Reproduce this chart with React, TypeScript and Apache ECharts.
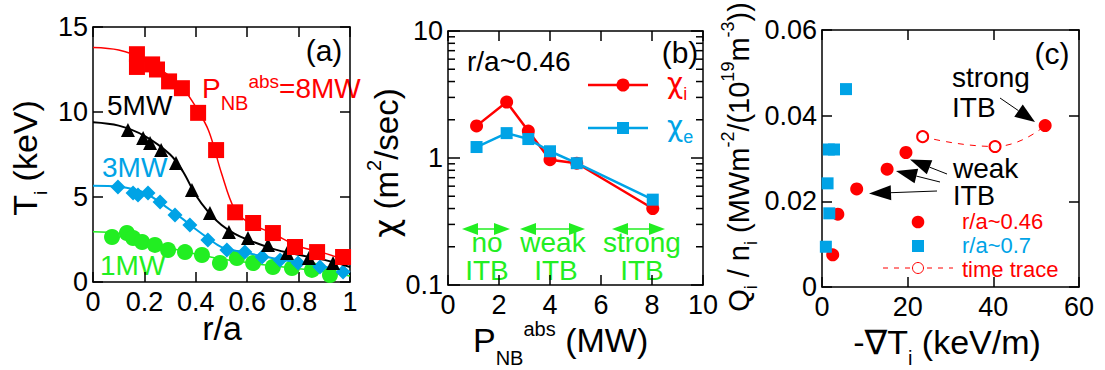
import React, { useEffect, useRef } from "react";
import * as echarts from "echarts";

// ---------------- data: panel (a) Ti profiles ----------------
const r8 = [0.171, 0.171, 0.23, 0.249, 0.296, 0.346, 0.409, 0.479, 0.553, 0.623, 0.7, 0.786, 0.872, 0.973];
const T8 = [13.4, 12.65, 12.8, 12.5, 11.8, 11.4, 9.95, 7.76, 4.1, 3.47, 2.88, 2.06, 1.76, 1.47];
const r5 = [0.136, 0.195, 0.222, 0.265, 0.323, 0.385, 0.455, 0.529, 0.603, 0.681, 0.755, 0.84, 0.934];
const T5 = [8.94, 8.47, 8.18, 7.76, 7.0, 5.41, 4.06, 2.94, 2.59, 2.18, 1.71, 1.41, 1.12];
const r3 = [0.097, 0.156, 0.175, 0.214, 0.261, 0.319, 0.377, 0.447, 0.521, 0.591, 0.658, 0.728, 0.798, 0.883, 0.973];
const T3 = [5.59, 5.24, 5.12, 5.24, 4.71, 3.94, 3.35, 2.47, 1.88, 1.76, 1.47, 1.29, 1.12, 0.88, 0.59];
const r1 = [0.074, 0.132, 0.156, 0.191, 0.241, 0.292, 0.358, 0.424, 0.494, 0.56, 0.623, 0.7, 0.774, 0.852, 0.922];
const T1 = [2.65, 2.88, 2.59, 2.35, 2.18, 1.88, 1.76, 1.59, 1.12, 1.41, 1.12, 0.88, 0.82, 0.71, 0.41];
const fitR = [0, 0.1, 0.2, 0.3, 0.35, 0.4, 0.45, 0.5, 0.55, 0.6, 0.7, 0.8, 0.9, 1.0];
const fit8 = [13.8, 13.65, 13.1, 12.1, 11.4, 10.3, 8.9, 6.4, 4.3, 3.55, 2.85, 2.1, 1.7, 1.2];
const fit5 = [9.4, 9.2, 8.6, 7.5, 6.5, 5.1, 4.1, 3.35, 2.85, 2.5, 1.95, 1.6, 1.3, 0.88];
const fit3 = [5.66, 5.6, 5.25, 4.25, 3.7, 3.1, 2.55, 2.05, 1.85, 1.7, 1.4, 1.15, 0.9, 0.6];
const fit1 = [2.95, 2.85, 2.45, 2.0, 1.82, 1.65, 1.5, 1.35, 1.25, 1.15, 0.95, 0.78, 0.6, 0.35];

// ---------------- data: panel (b) chi vs P_NB ----------------
const pnb = [1.12, 2.3, 3.15, 4.0, 5.05, 8.03];
const chiI = [1.79, 2.76, 1.63, 0.97, 0.91, 0.4];
const chiE = [1.22, 1.57, 1.41, 1.13, 0.91, 0.47];
const logMinorTicks = [0.2, 0.3, 0.4, 0.5, 0.6, 0.7, 0.8, 0.9, 2, 3, 4, 5, 6, 7, 8, 9];

// ---------------- data: panel (c) Qi/ni vs -grad Ti ----------------
const grad046 = [52.1, 19.6, 15.2, 8.1, 3.7, 2.5];
const q046 = [0.0377, 0.0314, 0.0275, 0.0229, 0.017, 0.0075];
const grad07 = [5.6, 1.6, 2.8, 1.3, 1.7, 0.9];
const q07 = [0.0462, 0.0321, 0.0321, 0.0242, 0.0172, 0.0094];
const gradTrace = [23.5, 40.4, 52.1];
const qTrace = [0.0351, 0.0328, 0.0377];

const RED = "#ff0000";
const BLUE = "#00a3e6";
const GREEN = "#22ee22";
const BLACK = "#000000";
const FONT = '"Liberation Sans", "DejaVu Sans", Arial, sans-serif';
const GREEK = '"DejaVu Sans", "Liberation Sans", sans-serif';

const zip = (a: number[], b: number[]) => a.map((v, i) => [v, b[i]]);

let mctx: CanvasRenderingContext2D | null = null;
function tw(t: string, s: number, fam: string): number {
  if (!mctx) mctx = document.createElement("canvas").getContext("2d");
  if (!mctx) return t.length * s * 0.55;
  mctx.font = `${s}px ${fam}`;
  return mctx.measureText(t).width;
}

type Piece = [string, number, number?, string?];
function runText(pieces: Piece[], x: number, y: number, color: string, align: "left" | "center" = "left", rotation = 0) {
  const widths = pieces.map((p) => tw(p[0], p[1], p[3] || FONT));
  const total = widths.reduce((a, b) => a + b, 0);
  let cx = align === "center" ? -total / 2 : 0;
  const children = pieces.map((p, i) => {
    const el = {
      type: "text",
      x: cx,
      y: p[2] || 0,
      style: { text: p[0], fontSize: p[1], fontFamily: p[3] || FONT, fill: color, align: "left", verticalAlign: "middle" },
    };
    cx += widths[i];
    return el;
  });
  return { type: "group", x, y, rotation, children, silent: true };
}

function arrow(x1: number, y1: number, x2: number, y2: number, color: string, hl: number, hw: number, lw: number) {
  const dx = x2 - x1, dy = y2 - y1;
  const L = Math.hypot(dx, dy);
  const ux = dx / L, uy = dy / L;
  const bx = x2 - ux * hl, by = y2 - uy * hl;
  const px = -uy, py = ux;
  return [
    { type: "line", shape: { x1, y1, x2: bx, y2: by }, style: { stroke: color, lineWidth: lw }, silent: true },
    {
      type: "polygon",
      shape: { points: [[x2, y2], [bx + px * hw / 2, by + py * hw / 2], [bx - px * hw / 2, by - py * hw / 2]] },
      style: { fill: color },
      silent: true,
    },
  ];
}

function dArrow(xl: number, xr: number, y: number, color: string) {
  const hl = 16, hw = 12;
  return [
    { type: "line", shape: { x1: xl + hl, y1: y, x2: xr - hl, y2: y }, style: { stroke: color, lineWidth: 1.5 }, silent: true },
    { type: "polygon", shape: { points: [[xl, y], [xl + hl, y - hw / 2], [xl + hl, y + hw / 2]] }, style: { fill: color }, silent: true },
    { type: "polygon", shape: { points: [[xr, y], [xr - hl, y - hw / 2], [xr - hl, y + hw / 2]] }, style: { fill: color }, silent: true },
  ];
}

const axLine = { show: true, onZero: false, lineStyle: { color: BLACK, width: 1.5 } };
const axTick = { show: true, inside: true, length: 10, lineStyle: { color: BLACK, width: 1.5 } };
const lbl = (margin: number) => ({ show: true, color: BLACK, fontSize: 27, fontFamily: FONT, margin });
const noLbl = { show: false };

function xAx(grid: number, pos: "bottom" | "top", min: number, max: number, interval: number) {
  return {
    type: "value", gridIndex: grid, position: pos, min, max, interval,
    axisLine: axLine, axisTick: axTick, splitLine: { show: false },
    axisLabel: pos === "bottom" ? lbl(6) : noLbl,
  };
}
function yAx(grid: number, pos: "left" | "right", min: number, max: number, interval: number) {
  return {
    type: "value", gridIndex: grid, position: pos, min, max, interval,
    axisLine: axLine, axisTick: axTick, splitLine: { show: false },
    axisLabel: pos === "left" ? lbl(5) : noLbl,
  };
}
function yLog(grid: number, pos: "left" | "right") {
  return {
    type: "log", logBase: 10, gridIndex: grid, position: pos, min: 0.1, max: 10,
    axisLine: axLine, axisTick: { ...axTick, length: 12 }, splitLine: { show: false }, minorTick: { show: false },
    axisLabel: pos === "left" ? lbl(5) : noLbl,
  };
}

export default function App() {
  const ref = useRef<HTMLDivElement>(null);
  useEffect(() => {
    document.body.style.margin = "0";
    if (!ref.current) return;
    const chart = echarts.init(ref.current, undefined, { renderer: "svg" });

    const sc = (x: number, y: number, data: number[][], symbol: string, size: number, color: string, z = 3) => ({
      type: "scatter", xAxisIndex: x, yAxisIndex: y, data, symbol, symbolSize: size, z,
      itemStyle: { color, opacity: 1 }, silent: true,
    });
    const fit = (data: number[][], color: string, width: number, z = 2) => ({
      type: "line", xAxisIndex: 0, yAxisIndex: 0, data, smooth: 0.35, showSymbol: false, symbol: "none", z,
      lineStyle: { color, width }, silent: true,
    });

    const graphics: any[] = [
      // panel (a) texts
      runText([["(a)", 30]], 324, 50, BLACK, "center"),
      runText([["P", 28], ["NB", 20, 15], ["abs", 19, -7], ["=8MW", 28]], 202, 88, RED),
      runText([["5MW", 28]], 107, 105, BLACK),
      runText([["3MW", 28]], 102, 167, BLUE),
      runText([["1MW", 28]], 100, 265, GREEN),
      runText([["T", 34], ["i", 19, 15], [" (keV)", 34]], 25, 158, BLACK, "center", Math.PI / 2),
      runText([["r/a", 34]], 222, 328, BLACK, "center"),
      // panel (b) texts
      runText([["r/a~0.46", 28]], 467, 61, BLACK),
      runText([["(b)", 30]], 680, 52, BLACK, "center"),
      runText([["χ", 28, 0, GREEK], ["i", 18, 11]], 667, 83, RED),
      runText([["χ", 28, 0, GREEK], ["e", 18, 11]], 667, 126, BLUE),
      runText([["χ", 33, 0, GREEK], [" (m", 33], ["2", 20, -12], ["/sec)", 33]], 386, 163, BLACK, "center", Math.PI / 2),
      runText([["P", 34], ["NB", 20, 18], ["abs", 20, -11], [" (MW)", 34]], 473, 340, BLACK),
      runText([["no", 28]], 487, 242, GREEN, "center"),
      runText([["ITB", 28]], 487, 270, GREEN, "center"),
      runText([["weak", 28]], 553, 242, GREEN, "center"),
      runText([["ITB", 28]], 556, 270, GREEN, "center"),
      runText([["strong", 28]], 642, 242, GREEN, "center"),
      runText([["ITB", 28]], 642, 270, GREEN, "center"),
      ...dArrow(462, 510, 229, GREEN),
      ...dArrow(520, 585, 229, GREEN),
      ...dArrow(612, 665, 229, GREEN),
      { type: "line", shape: { x1: 588, y1: 85, x2: 648, y2: 85 }, style: { stroke: RED, lineWidth: 2.5 }, silent: true },
      { type: "circle", shape: { cx: 623, cy: 85, r: 6.5 }, style: { fill: RED }, silent: true },
      { type: "line", shape: { x1: 588, y1: 128, x2: 648, y2: 128 }, style: { stroke: BLUE, lineWidth: 2.5 }, silent: true },
      { type: "rect", shape: { x: 617, y: 122, width: 12, height: 12 }, style: { fill: BLUE }, silent: true },
      // panel (c) texts
      runText([["(c)", 30]], 1052, 53, BLACK, "center"),
      runText([["strong", 28]], 952, 77, BLACK),
      runText([["ITB", 28]], 952, 107, BLACK),
      runText([["weak", 28]], 953, 168, BLACK),
      runText([["ITB", 27]], 953, 196, BLACK),
      ...arrow(1000, 98, 1035, 122, BLACK, 20, 15, 1),
      ...arrow(947, 174, 910, 159.5, BLACK, 21, 15, 1),
      ...arrow(940, 182, 896, 171, BLACK, 21, 15, 1),
      ...arrow(937, 191, 869, 193.5, BLACK, 22, 15, 1),
      { type: "circle", shape: { cx: 918, cy: 222, r: 6.3 }, style: { fill: RED }, silent: true },
      runText([["r/a~0.46", 22]], 962, 221, RED),
      { type: "rect", shape: { x: 912, y: 240, width: 12, height: 12 }, style: { fill: BLUE }, silent: true },
      runText([["r/a~0.7", 22]], 962, 245, BLUE),
      { type: "line", shape: { x1: 883, y1: 268, x2: 953, y2: 268 }, style: { stroke: RED, lineWidth: 1, lineDash: [5, 6] }, silent: true },
      { type: "circle", shape: { cx: 918, cy: 268, r: 5.5 }, style: { fill: "#fff", stroke: RED, lineWidth: 1 }, silent: true },
      runText([["time trace", 22]], 962, 269, RED),
      runText(
        [["Q", 29], ["i", 18, 12], [" / n", 29], ["i", 18, 12], [" (MWm", 29], ["-2", 18, -11], ["/(10", 29], ["19", 18, -11], ["m", 29], ["-3", 18, -11], ["))", 29]],
        739, 157, BLACK, "center", Math.PI / 2
      ),
      runText([["-∇T", 34], ["i", 20, 16], [" (keV/m)", 34]], 947, 342, BLACK, "center"),
    ];

    const option: any = {
      animation: false,
      textStyle: { fontFamily: FONT },
      grid: [
        { left: 93, top: 27, width: 257, height: 255, containLabel: false, outerBoundsMode: "none", show: false },
        { left: 448, top: 31, width: 255, height: 254, containLabel: false, outerBoundsMode: "none", show: false },
        { left: 822, top: 30, width: 257, height: 257, containLabel: false, outerBoundsMode: "none", show: false },
      ],
      xAxis: [
        xAx(0, "bottom", 0, 1, 0.2),
        xAx(0, "top", 0, 1, 0.2),
        xAx(1, "bottom", 0, 10, 2),
        xAx(1, "top", 0, 10, 2),
        xAx(2, "bottom", 0, 60, 20),
        xAx(2, "top", 0, 60, 20),
      ],
      yAxis: [
        yAx(0, "left", 0, 15, 5),
        yAx(0, "right", 0, 15, 5),
        yLog(1, "left"),
        yLog(1, "right"),
        yAx(2, "left", 0, 0.06, 0.02),
        yAx(2, "right", 0, 0.06, 0.02),
      ],
      series: [
        // (a)
        fit(zip(fitR, fit1), GREEN, 1.5, 1),
        sc(0, 0, zip(r1, T1), "circle", 16, GREEN, 2),
        fit(zip(fitR, fit3), BLUE, 2, 3),
        sc(0, 0, zip(r3, T3), "diamond", 15, BLUE, 4),
        fit(zip(fitR, fit5), BLACK, 2, 5),
        sc(0, 0, zip(r5, T5), "triangle", 14, BLACK, 6),
        fit(zip(fitR, fit8), RED, 1.5, 7),
        sc(0, 0, zip(r8, T8), "rect", 16, RED, 8),
        // (b)
        {
          type: "line", xAxisIndex: 2, yAxisIndex: 2, data: zip(pnb, chiI), symbol: "circle", symbolSize: 13,
          lineStyle: { color: RED, width: 2.5 }, itemStyle: { color: RED }, z: 3, silent: true,
        },
        {
          type: "line", xAxisIndex: 2, yAxisIndex: 2, data: zip(pnb, chiE), symbol: "rect", symbolSize: 12,
          lineStyle: { color: BLUE, width: 2.5 }, itemStyle: { color: BLUE }, z: 4, silent: true,
        },
        {
          type: "custom", xAxisIndex: 2, yAxisIndex: 2, clip: false, silent: true, z: 5,
          data: logMinorTicks.map((v) => [0, v]),
          renderItem: (params: any, api: any) => {
            const v = api.value(1);
            const a = api.coord([0, v]);
            const b = api.coord([10, v]);
            return {
              type: "group",
              children: [
                { type: "line", shape: { x1: a[0], y1: a[1], x2: a[0] + 7, y2: a[1] }, style: { stroke: BLACK, lineWidth: 1.5 } },
                { type: "line", shape: { x1: b[0], y1: b[1], x2: b[0] - 7, y2: b[1] }, style: { stroke: BLACK, lineWidth: 1.5 } },
              ],
            };
          },
        },
        // (c)
        {
          type: "line", xAxisIndex: 4, yAxisIndex: 4, smooth: 0.5, symbol: "emptyCircle", symbolSize: 11, z: 2,
          data: gradTrace.map((g, i) => (i === gradTrace.length - 1 ? { value: [g, qTrace[i]], symbol: "none" } : [g, qTrace[i]])),
          lineStyle: { color: RED, width: 1, type: [6, 6] }, itemStyle: { color: RED, borderColor: RED, borderWidth: 1 }, silent: true,
        },
        sc(4, 4, zip(grad046, q046), "circle", 13, RED, 3),
        sc(4, 4, zip(grad07, q07), "rect", 12, BLUE, 4),
      ],
      graphic: graphics,
    };
    chart.setOption(option);
    return () => chart.dispose();
  }, []);
  return <div ref={ref} style={{ width: 1105, height: 370 }} />;
}
